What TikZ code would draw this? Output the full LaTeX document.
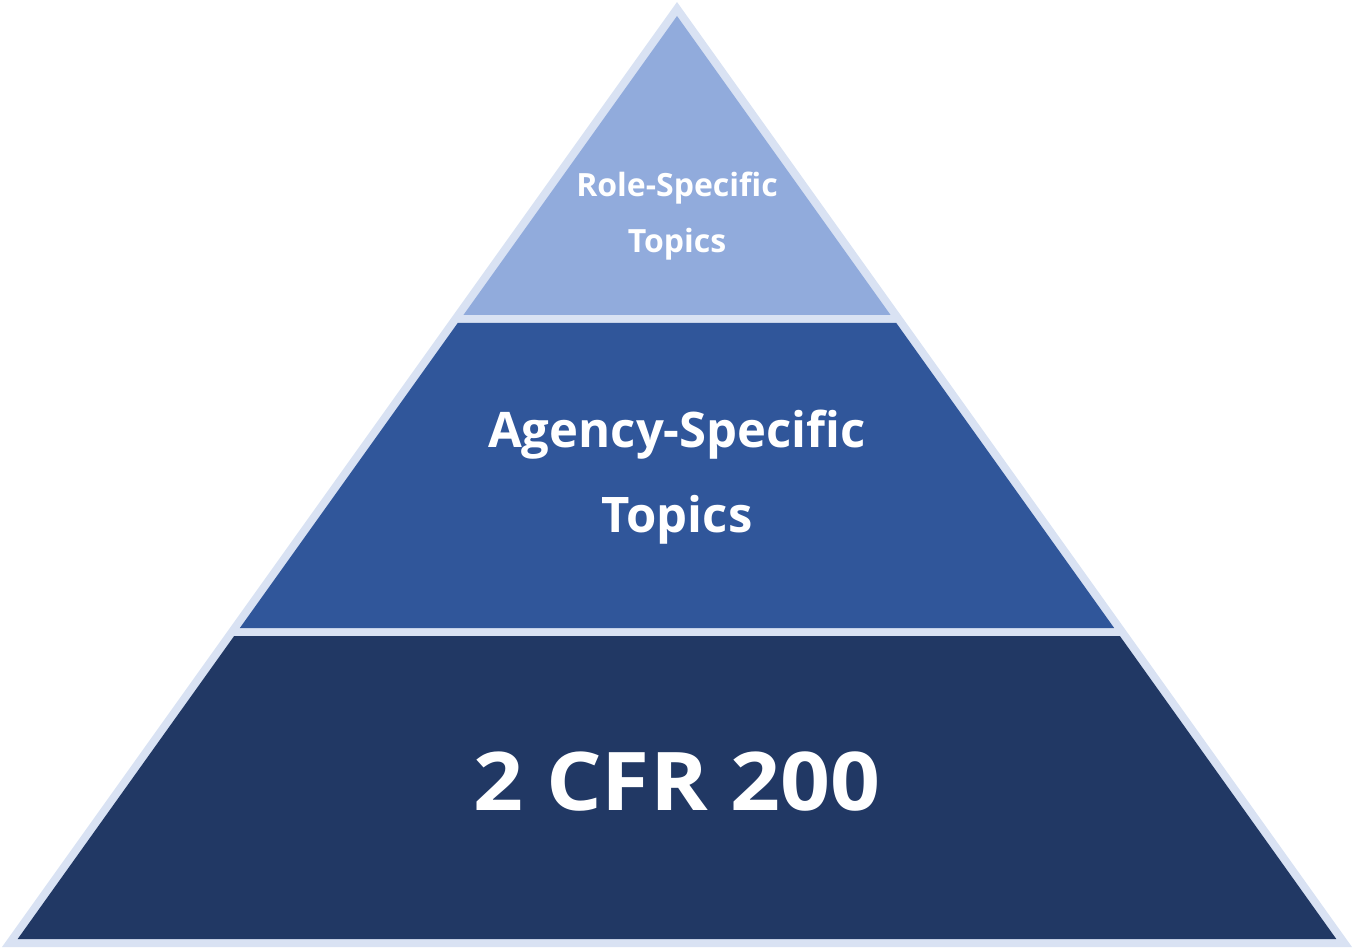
\documentclass[tikz,border=0pt]{standalone}
\usepackage{fontspec}
\setmainfont{Open Sans}
\newfontfamily\widesans[FakeStretch=1.08]{Open Sans}
\usepackage{xcolor}
\usetikzlibrary{positioning}
\definecolor{rimcolor}{HTML}{D9E2F3}
\definecolor{topcolor}{HTML}{91ABDC}
\definecolor{midcolor}{HTML}{30569A}
\definecolor{basecolor}{HTML}{213864}

\begin{document}
\begin{tikzpicture}[
  x=1pt, y=-1pt,
  lbl/.style={text=white, align=center, anchor=base, inner sep=0pt},
]
  \useasboundingbox (0,0) rectangle (1354,949);

  % Outline
  \fill[rimcolor] (677,2) -- (1352,947) -- (2,947) -- cycle;

  % Tiers
  \foreach \yt/\yb/\c in {16/315/topcolor, 323/628/midcolor, 636/939/basecolor} {
    \fill[\c] ({677-0.7143*(\yt-16)},\yt) -- ({677+0.7143*(\yt-16)},\yt)
      -- ({677+0.7143*(\yb-16)},\yb) -- ({677-0.7143*(\yb-16)},\yb) -- cycle;
  }

  % Labels (anchor is the baseline of the last line)
  \node[lbl, font=\bfseries\fontsize{32}{56}\selectfont] (role) at (677,253)
    {Role-Specific\\Topics};
  \node[lbl, font=\bfseries\fontsize{49}{85}\selectfont] (agency) at (677,532)
    {Agency-Specific\\Topics};
  \node[lbl, font=\widesans\bfseries\fontsize{81}{81}\selectfont] (cfr) at (677,810)
    {2 CFR 200};

\end{tikzpicture}
\end{document}
